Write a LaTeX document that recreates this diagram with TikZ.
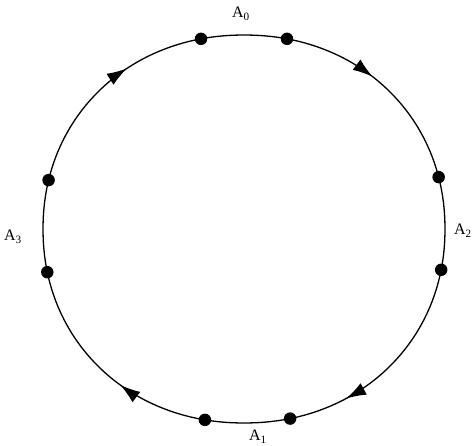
\documentclass[tikz,border=0pt]{standalone}
\usepackage{fontspec}
\setmainfont{Liberation Serif}
\usetikzlibrary{arrows.meta,decorations.markings}
\tikzset{
  declare function={sx(\t)=244+201*cos(\t)*abs(cos(\t))^(-0.0385);
                    sy(\t)=229+194*sin(\t)*abs(sin(\t))^(-0.0385);},
  curve/.style={line width=1.3pt},
  dot/.style={circle,fill=black,inner sep=0pt,minimum size=12.5pt},
  lbl/.style={font=\fontsize{16}{18}\selectfont,inner sep=0pt},
  flowtip/.style={decoration={markings,
     mark=at position 0.162 with {\arrow{Latex[length=20pt,width=13pt]}},
     mark=at position 0.352 with {\arrow{Latex[length=20pt,width=13pt]}},
     mark=at position 0.648 with {\arrow{Latex[length=20pt,width=13pt]}},
     mark=at position 0.857 with {\arrow{Latex[length=20pt,width=13pt]}}},
     postaction={decorate}}
}
\begin{document}
\begin{tikzpicture}[x=1pt,y=-1pt]
\useasboundingbox (0,0) rectangle (474,445);
\draw[curve,flowtip] plot[domain=1:359,samples=180] ({sx(\x)},{sy(\x)}) -- cycle;
% dots
\node[dot] (t1) at ({sx(258.4)},{sy(258.4)}) {};
\node[dot] (t2) at ({sx(281.6)},{sy(281.6)}) {};
\node[dot] (r1) at ({sx(345.3)},{sy(345.3)}) {};
\node[dot] (r2) at ({sx(11.4)},{sy(11.4)}) {};
\node[dot] (b1) at ({sx(77.5)},{sy(77.5)}) {};
\node[dot] (b2) at ({sx(100.5)},{sy(100.5)}) {};
\node[dot] (l1) at ({sx(167.9)},{sy(167.9)}) {};
\node[dot] (l2) at ({sx(193.8)},{sy(193.8)}) {};
% labels
\node[lbl] (a0) at (241,14) {A\textsubscript{0}};
\node[lbl] (a1) at (258,437) {A\textsubscript{1}};
\node[lbl] (a2) at (463,231) {A\textsubscript{2}};
\node[lbl] (a3) at (13,237) {A\textsubscript{3}};
\end{tikzpicture}
\end{document}
